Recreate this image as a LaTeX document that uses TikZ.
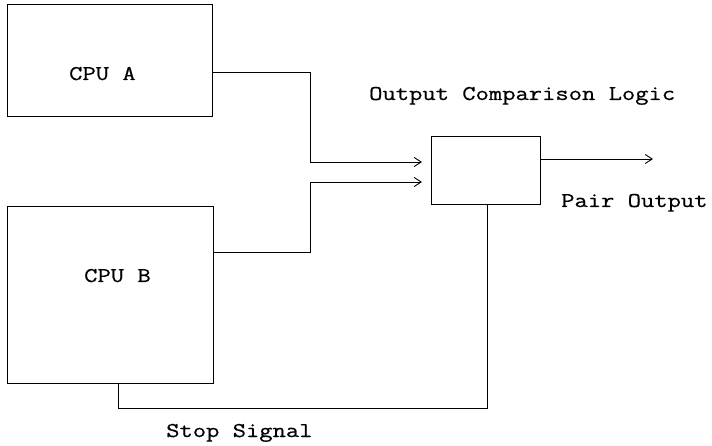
\documentclass[tikz,border=0pt]{standalone}
\usepackage{fontspec}
\usetikzlibrary{arrows.meta}
\newfontfamily\reffont{Latin Modern Mono}[FakeStretch=1.23,FakeBold=0.6]
\begin{document}
\begin{tikzpicture}[x=1pt,y=-1pt,
  box/.style={draw,line width=1pt,inner sep=0pt},
  wire/.style={line width=0.9pt},
  arr/.style={wire,-{Straight Barb[length=7pt,width=9pt,line width=0.9pt]}},
  lbl/.style={font=\reffont\fontsize{21}{24}\selectfont,inner sep=0pt,anchor=base west}]
\useasboundingbox (0,0) rectangle (712,446);
\node[box,minimum width=205pt,minimum height=112pt] (cpua) at (109.5,61) {};
\node[lbl] (ta) at (69,80) {CPU A};
\node[box,minimum width=206pt,minimum height=176pt] (cpub) at (110,295) {};
\node[lbl] (tb) at (84,282) {CPU B};
\node[box,minimum width=109pt,minimum height=68pt] (cmp) at (485.5,171) {};
\node[lbl] (tc) at (369,100) {Output Comparison Logic};
\node[lbl] (tp) at (561,207) {Pair Output};
\node[lbl] (ts) at (166,437) {Stop Signal};
\coordinate (ina) at (422,162);
\coordinate (inb) at (422,182);
\coordinate (outp) at (653,159);
\draw[arr] (cpua.east |- 0,72) -| (310,162) -- (ina);
\draw[arr] (cpub.east |- 0,252) -| (310,182) -- (inb);
\draw[arr] (cmp.east |- 0,159) -- (outp);
\draw[wire] (cmp.south -| 487,0) |- (118,408) -- (cpub.south -| 118,0);
\end{tikzpicture}
\end{document}
